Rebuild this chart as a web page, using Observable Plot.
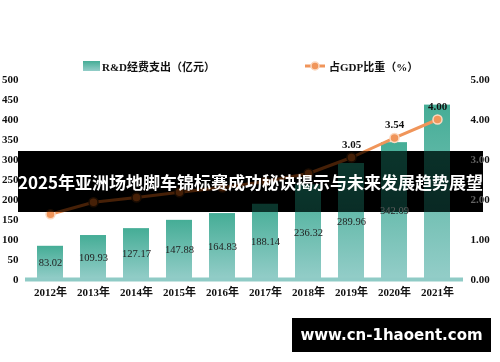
<!DOCTYPE html>
<html>
<head>
<meta charset="utf-8">
<script src="https://cdn.jsdelivr.net/npm/d3@7"></script>
<script src="https://cdn.jsdelivr.net/npm/@observablehq/plot@0.6"></script>
<style>
  html, body { margin: 0; padding: 0; background: #fff; }
  #wrap { position: relative; width: 500px; height: 362px; overflow: hidden; }
  #chart svg { display: block; }
  .legend { position: absolute; font: bold 11px "Liberation Serif", "Noto Sans CJK SC", serif; color: #111; display: flex; align-items: center; white-space: nowrap; }
  #banner { position: absolute; left: 18px; top: 151px; width: 465px; height: 61px;
    backdrop-filter: invert(1) hue-rotate(180deg) brightness(0.42);
    -webkit-backdrop-filter: invert(1) hue-rotate(180deg) brightness(0.42);
    display: flex; align-items: center; justify-content: center;
    color: #fff; font: bold 17px "Noto Sans CJK SC", sans-serif; white-space: nowrap; }
  #mark { position: absolute; left: 292px; top: 318px; width: 199px; height: 34px; background: #000;
    display: flex; align-items: center; justify-content: center;
    color: #fff; font: bold 15px "DejaVu Sans", sans-serif; white-space: nowrap; }
</style>
</head>
<body>
<div id="wrap">
  <div id="chart"></div>
  <div class="legend" style="left:83px; top:60px; height:12px;">
    <span style="display:inline-block;width:17px;height:10px;background:linear-gradient(#45ad96,#93cdc8);margin-right:2px;"></span>
    <span id="leg1"></span>
  </div>
  <div class="legend" style="left:305px; top:60px; height:12px;">
    <svg width="22" height="12" style="margin-right:2px"><line x1="0" y1="6" x2="20" y2="6" stroke="#f0955a" stroke-width="3"/><circle cx="10" cy="6" r="4" fill="#f0955a" stroke="#fbd9c0" stroke-width="1.5"/></svg>
    <span id="leg2"></span>
  </div>
  <div id="banner"></div>
  <div id="mark"></div>
</div>
<script>
const years = ["2012年","2013年","2014年","2015年","2016年","2017年","2018年","2019年","2020年","2021年"];
const rdSpend = [83.02, 109.93, 127.17, 147.88, 164.83, 188.14, 236.32, 289.96, 342.09, 436.00];
const gdpShare = [1.63, 1.93, 2.05, 2.18, 2.30, 2.45, 2.65, 3.05, 3.54, 4.00];
const labelledYears = ["2019年", "2020年", "2021年"]; // share labels visible in the reference
const hiddenBarLabels = ["2021年"]; // bar label covered by the title banner in the reference
const leftTicks = [0, 50, 100, 150, 200, 250, 300, 350, 400, 450, 500];
const rightTicks = [0, 1, 2, 3, 4, 5];
const seriesNames = ["R&D经费支出（亿元）", "占GDP比重（%）"];
const titleText = "2025年亚洲场地脚车锦标赛成功秘诀揭示与未来发展趋势展望";
const watermark = "www.cn-1haoent.com";

document.getElementById("leg1").textContent = seriesNames[0];
document.getElementById("leg2").textContent = seriesNames[1];
document.getElementById("banner").textContent = titleText;
document.getElementById("mark").textContent = watermark;

const data = years.map((y, i) => ({year: y, rd: rdSpend[i], share: gdpShare[i]}));
const ratio = 100; // right axis units -> left axis units

const defs = () => {
  const ns = "http://www.w3.org/2000/svg";
  const d = document.createElementNS(ns, "defs");
  d.innerHTML = '<linearGradient id="barGrad" x1="0" y1="0" x2="0" y2="1"><stop offset="0" stop-color="#45ad96"/><stop offset="1" stop-color="#93cdc8"/></linearGradient>';
  return d;
};

const tickFont = {fontFamily: '"Liberation Serif", "Noto Sans CJK SC", serif', fontSize: 11, fontWeight: "bold"};

const chart = Plot.plot({
  width: 500,
  height: 362,
  marginTop: 79,
  marginBottom: 83,
  marginLeft: 25,
  marginRight: 37,
  style: {background: "transparent", color: "#111"},
  x: {domain: years, paddingInner: 0.39, paddingOuter: 0.195, label: null},
  y: {domain: [0, 500], label: null},
  marks: [
    defs,
    Plot.barY(data, {x: "year", y: "rd", fill: "url(#barGrad)"}),
    Plot.ruleY([0], {stroke: "#8fcbc6", strokeWidth: 4}),
    Plot.text(data.filter(d => !hiddenBarLabels.includes(d.year)), {x: "year", y: d => d.rd / 2, text: d => d.rd.toFixed(2),
      fontFamily: '"Liberation Serif", serif', fontSize: 10.5, fill: "#222"}),
    Plot.line(data, {x: "year", y: d => d.share * ratio, stroke: "#f0955a", strokeWidth: 3}),
    Plot.dot(data, {x: "year", y: d => d.share * ratio, r: 4.5, fill: "#f0955a", stroke: "#fbd9c0", strokeWidth: 1.5}),
    Plot.text(data.filter(d => labelledYears.includes(d.year)), {x: "year", y: d => d.share * ratio,
      text: d => d.share.toFixed(2), dy: -13, ...tickFont, fill: "#111"}),
    Plot.axisY(leftTicks, {anchor: "left", tickSize: 0, tickPadding: 7, label: null, ...tickFont}),
    Plot.axisY(rightTicks.map(t => t * ratio), {anchor: "right", tickSize: 0, tickPadding: 7, label: null,
      tickFormat: d => (d / ratio).toFixed(2), ...tickFont}),
    Plot.axisX({tickSize: 0, tickPadding: 9, label: null, ...tickFont})
  ]
});
document.getElementById("chart").appendChild(chart);
</script>
</body>
</html>
